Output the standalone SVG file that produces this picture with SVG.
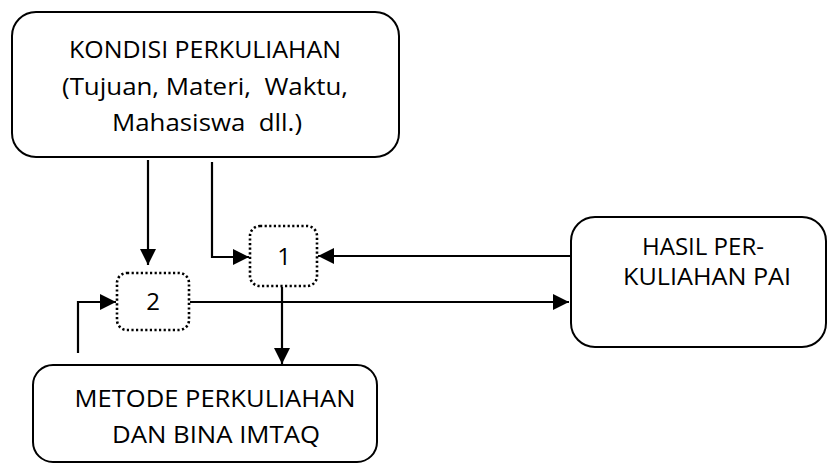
<svg xmlns="http://www.w3.org/2000/svg" width="829" height="464" viewBox="0 0 829 464">
<style>
.box{fill:#fff;stroke:#000;stroke-width:2}
.dot{fill:#fff;stroke:#000;stroke-width:2.6;stroke-dasharray:2.2 2.4}
.t{font-family:"Open Sans","Liberation Sans",Arial,sans-serif;font-size:24px;fill:#000;text-anchor:middle}
.c{fill:none;stroke:#000;stroke-width:2.2}
</style>
<defs>
<marker id="ah" markerUnits="userSpaceOnUse" markerWidth="16" markerHeight="16" refX="15" refY="7.5" orient="auto" viewBox="0 0 15 15">
<path d="M0,0 L15,7.5 L0,15 Z" fill="#000"/>
</marker>
</defs>
<g id="connectors">
<path class="c" d="M148,160 V265" marker-end="url(#ah)"/>
<path class="c" d="M212,162 V257 H249" marker-end="url(#ah)"/>
<path class="c" d="M570,256 H318" marker-end="url(#ah)"/>
<path class="c" d="M282,287 V364" marker-end="url(#ah)"/>
<path class="c" d="M190,302 H569" marker-end="url(#ah)"/>
<path class="c" d="M78,353 V302 H116" marker-end="url(#ah)"/>
</g>
<g id="kondisi">
<rect class="box" x="12" y="12" width="387" height="145" rx="24"/>
<text class="t" x="205" y="58" textLength="272" lengthAdjust="spacingAndGlyphs">KONDISI PERKULIAHAN</text>
<text class="t" x="205" y="95" textLength="286" lengthAdjust="spacingAndGlyphs" xml:space="preserve">(Tujuan, Materi,  Waktu,</text>
<text class="t" x="207" y="131" textLength="190" lengthAdjust="spacingAndGlyphs" xml:space="preserve">Mahasiswa  dll.)</text>
</g>
<g id="n1">
<rect class="dot" x="250" y="226" width="67" height="60" rx="10"/>
<text class="t" x="284" y="265">1</text>
</g>
<g id="n2">
<rect class="dot" x="117" y="273" width="72" height="57" rx="10"/>
<text class="t" x="153" y="310">2</text>
</g>
<g id="hasil">
<rect class="box" x="571" y="217" width="255" height="130" rx="24"/>
<text class="t" x="703" y="255" textLength="122" lengthAdjust="spacingAndGlyphs">HASIL PER-</text>
<text class="t" x="707" y="285" textLength="168" lengthAdjust="spacingAndGlyphs">KULIAHAN PAI</text>
</g>
<g id="metode">
<rect class="box" x="33" y="365" width="344" height="97" rx="20"/>
<text class="t" x="215" y="407" textLength="281" lengthAdjust="spacingAndGlyphs">METODE PERKULIAHAN</text>
<text class="t" x="216" y="443" textLength="208" lengthAdjust="spacingAndGlyphs">DAN BINA IMTAQ</text>
</g>
</svg>
